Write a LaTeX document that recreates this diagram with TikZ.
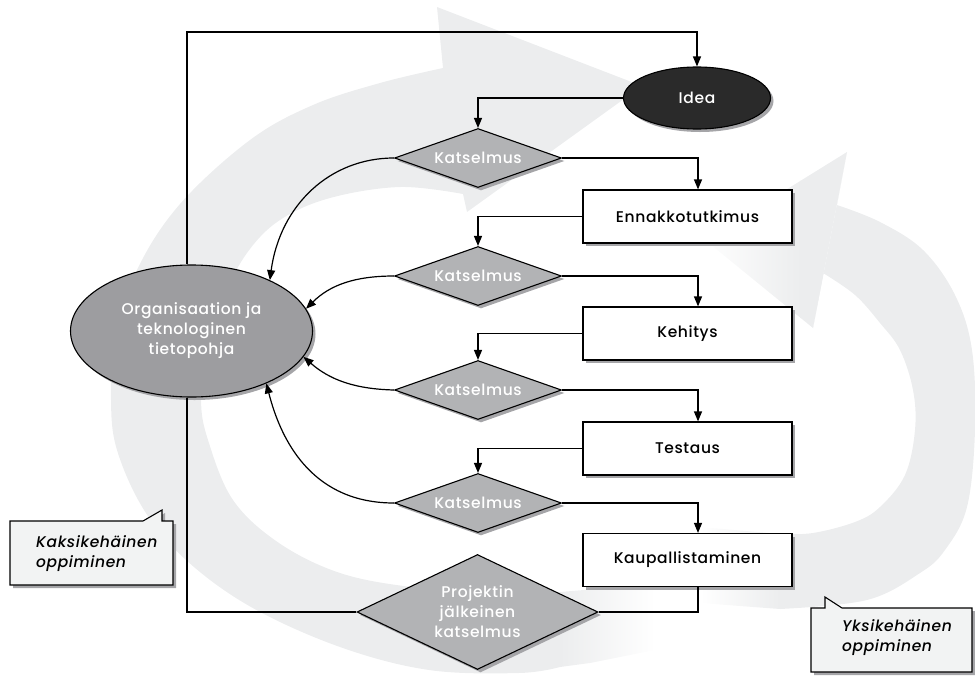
\documentclass[tikz,border=0pt]{standalone}
\usepackage{fontspec}
\setmainfont{Poppins}[UprightFont={* Medium}, ItalicFont={* Medium Italic}, LetterSpace=4]
\usetikzlibrary{shapes.geometric,arrows.meta,shadows}

\definecolor{bandgray}{RGB}{236,237,238}
\definecolor{diagray}{RGB}{178,179,181}
\definecolor{orggray}{RGB}{157,157,160}
\definecolor{ideafill}{RGB}{42,42,42}
\definecolor{notefill}{RGB}{242,243,243}
\definecolor{shadowgray}{RGB}{165,165,168}

\newcommand\dfont{\fontsize{15.5}{20}\selectfont}

\tikzset{
  flow/.style={line width=1.2pt, black},
  arr/.style={flow, -{Triangle[length=10pt,width=8pt]}},
  shad/.style={drop shadow={shadow xshift=3pt, shadow yshift=-3pt, fill=shadowgray, opacity=1}},
  review/.style={diamond, aspect=2.8, draw, line width=1.1pt, fill=diagray, text=white,
    minimum width=167pt, minimum height=59pt, inner sep=0pt, font=\dfont, shad},
  bigreview/.style={review, aspect=2.1, minimum width=241pt, minimum height=115pt, align=center},
  phase/.style={rectangle, draw, line width=1.2pt, fill=white, text=black,
    minimum width=209pt, minimum height=53pt, inner sep=0pt, font=\dfont, shad},
  knowledge/.style={ellipse, draw, line width=1.1pt, fill=orggray, text=white,
    minimum width=242pt, minimum height=132pt, inner sep=0pt, align=center, font=\dfont, shad},
  start/.style={ellipse, draw, line width=1.1pt, fill=ideafill, text=white,
    minimum width=147pt, minimum height=62pt, inner sep=0pt, font=\dfont, shad},
  notetext/.style={anchor=west, align=left, inner sep=0pt, font=\dfont\itshape, text=black},
  notebox/.style={fill=notefill, draw, line width=1.1pt},
}

\begin{document}
\begin{tikzpicture}[x=1pt, y=-1pt]
\useasboundingbox (0,0) rectangle (975,675);

% --- background: double-loop arrow sweeping round the left side ---
\fill[bandgray] plot[smooth, tension=0.6] coordinates {(560,667) (519,673) (429,670) (340,647) (251,607) (186,560) (144,510) (117,450) (111,400) (115,340) (137,270) (180,204) (250,140) (313,105) (380,83) (443,68)}
  -- (437,7) -- (642,86) -- (467,212) -- (463,194)
  -- plot[smooth, tension=0.6] coordinates {(463,194) (400,187) (330,198) (280,220) (247,253) (222,300) (206,350) (201,400) (208,440) (233,500) (279,543) (340,573) (411,587) (483,592) (560,592)}
  -- cycle;
\shade[left color=bandgray, right color=white] (560,592) -- (608,588) -- (655,584) -- (655,650) -- (590,663) -- (560,667) -- cycle;

% --- background: single-loop arrow on the right ---
\fill[bandgray] plot[smooth, tension=0.6] coordinates {(780,609) (867,600) (920,573) (945,550) (967,507) (975,430) (972,350) (955,295) (923,250) (880,222) (837,205)}
  -- (847,152) -- (813,328) -- (823,273)
  -- plot[smooth, tension=0.6] coordinates {(823,273) (855,295) (880,323) (900,350) (913,390) (915,430) (905,475) (880,507) (855,522) (813,533) (780,534)}
  -- cycle;
\begin{scope}
  \clip (847,152) -- (705,240) -- (813,328) -- cycle;
  \fill[bandgray] (800,140) rectangle (860,340);
  \shade[left color=white, right color=bandgray] (700,140) rectangle (801,340);
\end{scope}
\shade[left color=white, right color=bandgray] (700,527) -- (780,534) -- (780,609) -- (700,603) -- cycle;

% --- callouts ---
\begin{scope}[shift={(3,3)}]
  \fill[shadowgray] (10,521) -- (143,521) -- (162,510) -- (162,521) -- (173,521) -- (173,585) -- (10,585) -- cycle;
  \fill[shadowgray] (811,608) -- (825,608) -- (825,597) -- (842,608) -- (972,608) -- (972,672) -- (811,672) -- cycle;
\end{scope}
\path[notebox] (10,521) -- (143,521) -- (162,510) -- (162,521) -- (173,521) -- (173,585) -- (10,585) -- cycle;
\path[notebox] (811,608) -- (825,608) -- (825,597) -- (842,608) -- (972,608) -- (972,672) -- (811,672) -- cycle;
\node[notetext] (double) at (36,554) {Kaksikehäinen\\oppiminen};
\node[notetext] (single) at (842,638) {Yksikehäinen\\oppiminen};

% --- flow nodes ---
\node[start] (idea) at (697,98) {Idea};
\node[review] (r1) at (478,158) {Katselmus};
\node[review] (r2) at (478,276) {Katselmus};
\node[review] (r3) at (478,390) {Katselmus};
\node[review] (r4) at (478,503) {Katselmus};
\node[phase] (p1) at (687.5,216.5) {Ennakkotutkimus};
\node[phase] (p2) at (687.5,333.5) {Kehitys};
\node[phase] (p3) at (687.5,448.5) {Testaus};
\node[phase] (p4) at (687.5,560) {Kaupallistaminen};
\node[bigreview] (post) at (477.5,612) {Projektin\\jälkeinen\\katselmus};
\node[knowledge] (base) at (191.5,331) {Organisaation ja\\teknologinen\\tietopohja};
\coordinate (topline) at (400,32);

% --- main flow ---
\draw[arr] (idea.west) -| (r1.north);
\draw[arr] (r1.east) -| ([xshift=10.5pt]p1.north);
\draw[arr] (p1.west) -| (r2.north);
\draw[arr] (r2.east) -| ([xshift=10.5pt]p2.north);
\draw[arr] (p2.west) -| (r3.north);
\draw[arr] (r3.east) -| ([xshift=10.5pt]p3.north);
\draw[arr] (p3.west) -| (r4.north);
\draw[arr] (r4.east) -| ([xshift=10.5pt]p4.north);
\draw[flow] ([xshift=10.5pt]p4.south) |- (post.east);
\draw[flow] (post.west) -| ([xshift=-4.5pt]base.south);
\draw[arr] ([xshift=-4.5pt]base.north) |- (topline) -| (idea.north);

% --- reviews feeding the knowledge base ---
\draw[arr] (r1.west) .. controls (330,158) and (280,205) .. (base.33);
\draw[arr] (r2.west) .. controls (355,276) and (330,285) .. (base.11);
\draw[arr] (r3.west) .. controls (355,389) and (330,380) .. (base.-13);
\draw[arr] (r4.west) .. controls (315,503) and (282,445) .. (base.-35);
\end{tikzpicture}
\end{document}
